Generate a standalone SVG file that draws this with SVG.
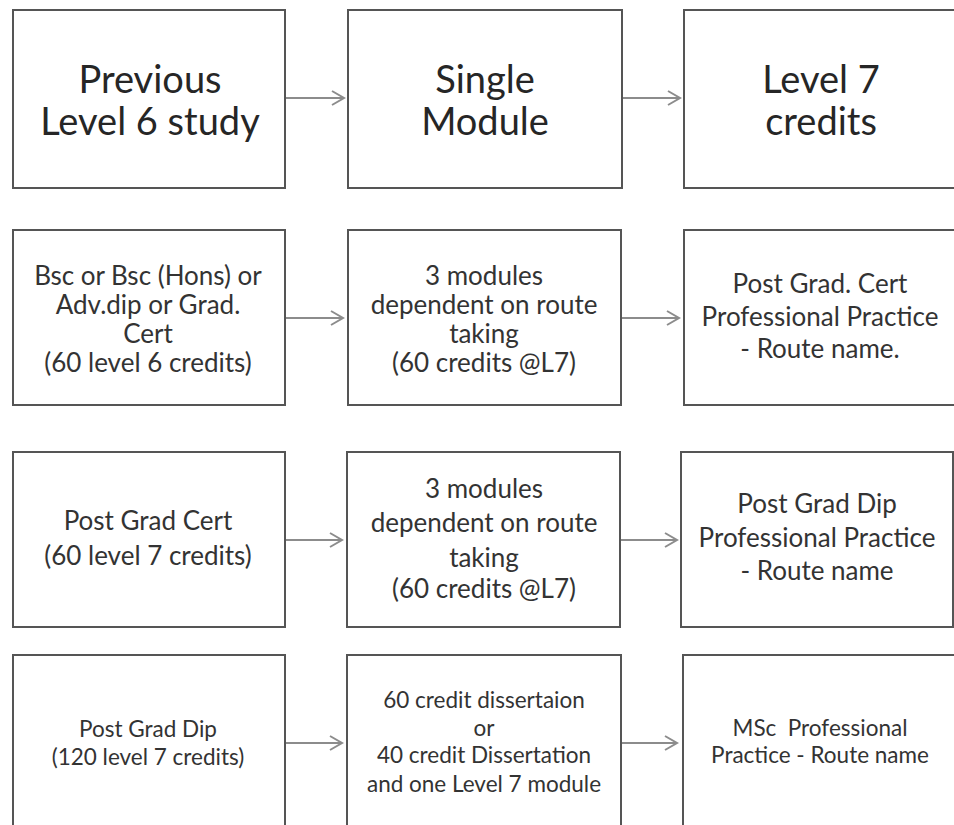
<svg xmlns="http://www.w3.org/2000/svg" width="954" height="825" viewBox="0 0 954 825">
<defs>
<style>
.box{fill:#ffffff;stroke:#555555;stroke-width:2}
.t{font-family:Lato,"Open Sans","Liberation Sans",sans-serif;fill:#333333;text-anchor:middle}
.t1{font-size:38px;fill:#262626}
.t2{font-size:26px}
.t4{font-size:22.5px}
.conn{stroke:#8c8c8c;stroke-width:2;fill:none}
</style>
<marker id="arr" markerUnits="userSpaceOnUse" markerWidth="16" markerHeight="18" refX="13" refY="8" orient="auto">
<path d="M1,1 L13,8 L1,15" fill="none" stroke="#8c8c8c" stroke-width="2"/>
</marker>
</defs>
<rect width="954" height="825" fill="#ffffff"/>
<g id="connectors">
<line class="conn" x1="285" y1="98" x2="344" y2="98" marker-end="url(#arr)"/>
<line class="conn" x1="622" y1="98" x2="680" y2="98" marker-end="url(#arr)"/>
<line class="conn" x1="285" y1="318" x2="343" y2="318" marker-end="url(#arr)"/>
<line class="conn" x1="621" y1="318" x2="679" y2="318" marker-end="url(#arr)"/>
<line class="conn" x1="285" y1="540" x2="342" y2="540" marker-end="url(#arr)"/>
<line class="conn" x1="620" y1="540" x2="677" y2="540" marker-end="url(#arr)"/>
<line class="conn" x1="285" y1="743" x2="342" y2="743" marker-end="url(#arr)"/>
<line class="conn" x1="621" y1="743" x2="677" y2="743" marker-end="url(#arr)"/>
</g>
<g id="n-prev-level6">
<rect class="box" x="13" y="10" width="272" height="178"/>
<text class="t t1" x="150" y="93">Previous</text>
<text class="t t1" x="150" y="135">Level 6 study</text>
</g>
<g id="n-single-module">
<rect class="box" x="348" y="10" width="274" height="178"/>
<text class="t t1" x="485" y="93">Single</text>
<text class="t t1" x="485" y="135">Module</text>
</g>
<g id="n-level7-credits">
<rect class="box" x="684" y="10" width="290" height="178"/>
<text class="t t1" x="821" y="93">Level 7</text>
<text class="t t1" x="821" y="135">credits</text>
</g>
<g id="n-bsc">
<rect class="box" x="13" y="230" width="272" height="175"/>
<text class="t t2" x="148" y="285">Bsc or Bsc (Hons) or</text>
<text class="t t2" x="148" y="314">Adv.dip or Grad.</text>
<text class="t t2" x="148" y="343">Cert</text>
<text class="t t2" x="148" y="372">(60 level 6 credits)</text>
</g>
<g id="n-3modules-a">
<rect class="box" x="348" y="230" width="273" height="175"/>
<text class="t t2" x="484" y="285">3 modules</text>
<text class="t t2" x="484" y="314">dependent on route</text>
<text class="t t2" x="484" y="343">taking</text>
<text class="t t2" x="484" y="372">(60 credits @L7)</text>
</g>
<g id="n-pgcert-pp">
<rect class="box" x="684" y="230" width="290" height="175"/>
<text class="t t2" x="820" y="293">Post Grad. Cert</text>
<text class="t t2" x="820" y="326">Professional Practice</text>
<text class="t t2" x="820" y="358">- Route name.</text>
</g>
<g id="n-pgcert">
<rect class="box" x="13" y="452" width="272" height="175"/>
<text class="t t2" x="148" y="530">Post Grad Cert</text>
<text class="t t2" x="148" y="565">(60 level 7 credits)</text>
</g>
<g id="n-3modules-b">
<rect class="box" x="347" y="452" width="273" height="175"/>
<text class="t t2" x="484" y="498">3 modules</text>
<text class="t t2" x="484" y="532">dependent on route</text>
<text class="t t2" x="484" y="567">taking</text>
<text class="t t2" x="484" y="598">(60 credits @L7)</text>
</g>
<g id="n-pgdip-pp">
<rect class="box" x="681" y="452" width="272" height="175"/>
<text class="t t2" x="817" y="513">Post Grad Dip</text>
<text class="t t2" x="817" y="547">Professional Practice</text>
<text class="t t2" x="817" y="580">- Route name</text>
</g>
<g id="n-pgdip">
<rect class="box" x="13" y="655" width="272" height="190"/>
<text class="t t4" x="148" y="737">Post Grad Dip</text>
<text class="t t4" x="148" y="765">(120 level 7 credits)</text>
</g>
<g id="n-dissertation">
<rect class="box" x="347" y="655" width="274" height="190"/>
<text class="t t4" x="484" y="708">60 credit dissertaion</text>
<text class="t t4" x="484" y="736">or</text>
<text class="t t4" x="484" y="763">40 credit Dissertation</text>
<text class="t t4" x="484" y="792">and one Level 7 module</text>
</g>
<g id="n-msc">
<rect class="box" x="683" y="655" width="290" height="190"/>
<text class="t t4" x="820" y="736" xml:space="preserve">MSc  Professional</text>
<text class="t t4" x="820" y="763">Practice - Route name</text>
</g>
</svg>
